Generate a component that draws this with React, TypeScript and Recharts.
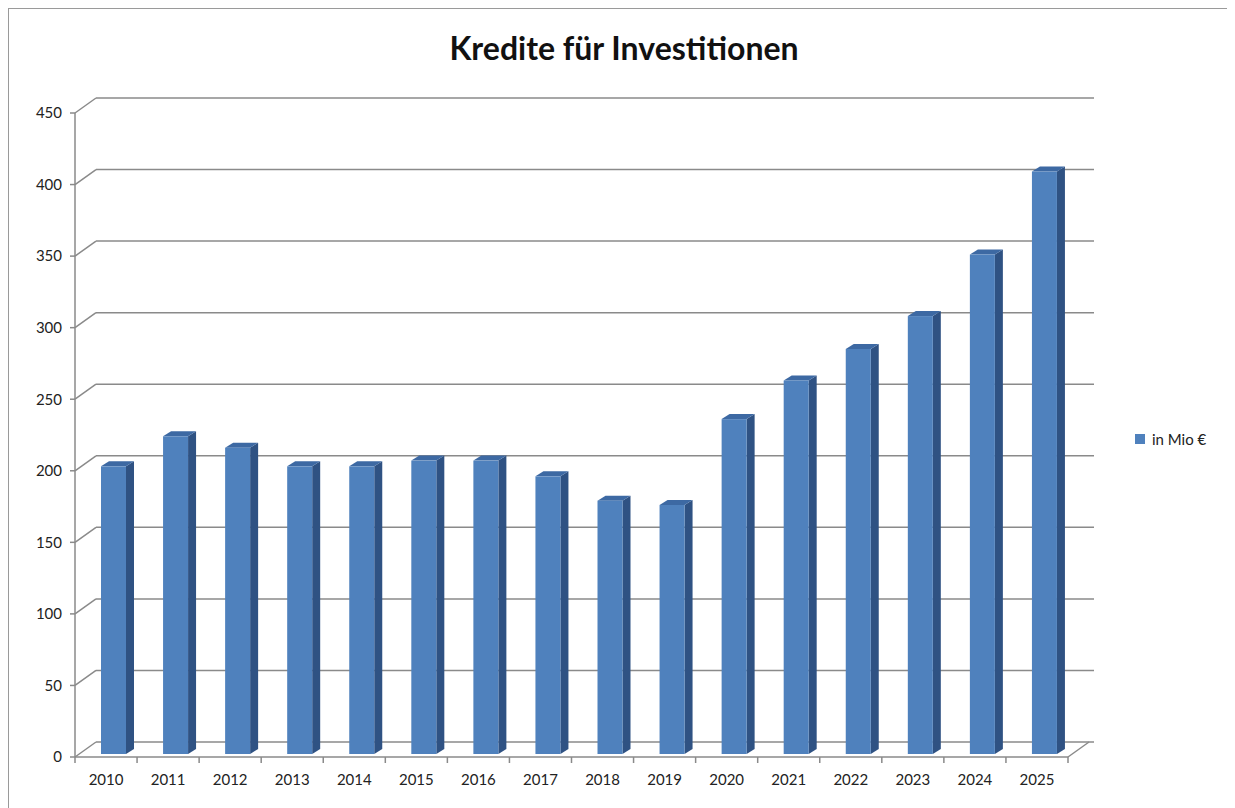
import React from "react";
import { BarChart, Bar, XAxis, YAxis, CartesianGrid } from "recharts";

const years = ["2010", "2011", "2012", "2013", "2014", "2015", "2016", "2017", "2018", "2019", "2020", "2021", "2022", "2023", "2024", "2025"];
const credits = [201, 222, 214, 201, 201, 205, 205, 194, 177, 174, 234, 261, 283, 306, 349, 407];
const yTicks = [0, 50, 100, 150, 200, 250, 300, 350, 400, 450];
const seriesName = "in Mio €";

const data = years.map((year, i) => ({ year, value: credits[i] }));

// 3d-ish depth of the back wall and of the columns
const WALL_DX = 21;
const WALL_DY = -15;
const COL_DX = 8;
const COL_DY = -5;
const GRID = "#8a8a8a";
const FRONT = "#4f81bd";
const SIDE = "#2f5283";
const TOP = "#3d69a3";
const FONT = "Lato, 'Open Sans', sans-serif";

function Column3D(props: any) {
  const { x, y, width, height } = props;
  if (height == null || height <= 0) return null;
  const fx = x + 7;
  const fy = y - 3;
  const w = width;
  const h = height;
  return (
    <g>
      <polygon
        points={`${fx + w},${fy} ${fx + w + COL_DX},${fy + COL_DY} ${fx + w + COL_DX},${fy + h + COL_DY} ${fx + w},${fy + h}`}
        fill={SIDE}
      />
      <polygon
        points={`${fx},${fy} ${fx + COL_DX},${fy + COL_DY} ${fx + w + COL_DX},${fy + COL_DY} ${fx + w},${fy}`}
        fill={TOP}
      />
      <rect x={fx} y={fy} width={w} height={h} fill={FRONT} />
    </g>
  );
}

function WallLine(props: any) {
  const { x1, y1, x2 } = props;
  return (
    <g>
      <line x1={x1} y1={y1} x2={x1 + WALL_DX} y2={y1 + WALL_DY} stroke={GRID} strokeWidth={1.5} />
      <line x1={x1 + WALL_DX} y1={y1 + WALL_DY} x2={x2 + WALL_DX + 5} y2={y1 + WALL_DY} stroke={GRID} strokeWidth={1.5} />
    </g>
  );
}

function YearTick(props: any) {
  const { x, y, payload, index } = props;
  const half = payload && payload.offset != null ? payload.offset : 31;
  const last = index === years.length - 1;
  return (
    <g>
      <line x1={x - half} y1={y} x2={x - half} y2={y + 6} stroke={GRID} strokeWidth={1.5} />
      {last && (
        <>
          <line x1={x + half} y1={y} x2={x + half} y2={y + 6} stroke={GRID} strokeWidth={1.5} />
          <line x1={x + half} y1={y} x2={x + half + WALL_DX} y2={y + WALL_DY} stroke={GRID} strokeWidth={1.5} />
        </>
      )}
      <text x={x} y={y + 24} textAnchor="middle" dominantBaseline="middle" fontSize={15} fill="#222" fontFamily={FONT}>
        {payload.value}
      </text>
    </g>
  );
}

export default function App() {
  return (
    <div
      style={{
        position: "relative",
        width: 1226,
        height: 800,
        border: "1px solid #9a9a9a",
        background: "#fff",
        fontFamily: FONT,
      }}
    >
      <div
        style={{
          position: "absolute",
          top: 19,
          left: 0,
          width: 1230,
          textAlign: "center",
          fontSize: 32,
          fontWeight: 700,
          color: "#111",
        }}
      >
        Kredite für Investitionen
      </div>
      <div
        style={{
          position: "absolute",
          left: 1126,
          top: 421,
          display: "flex",
          alignItems: "center",
          fontSize: 15,
          color: "#222",
        }}
      >
        <span style={{ display: "inline-block", width: 10, height: 10, background: FRONT, marginRight: 7 }} />
        <span>{seriesName}</span>
      </div>
      <BarChart
        width={1224}
        height={798}
        data={data}
        margin={{ top: 104, right: 165, bottom: 20, left: 6 }}
        barCategoryGap={0}
      >
        <CartesianGrid vertical={false} horizontal={(p: any) => <WallLine key={p.key} {...p} />} />
        <YAxis
          domain={[0, 450]}
          ticks={yTicks}
          width={60}
          interval={0}
          tickSize={5}
          tickMargin={8}
          axisLine={{ stroke: GRID, strokeWidth: 1.5 }}
          tickLine={{ stroke: GRID, strokeWidth: 1.5 }}
          tick={{ fontSize: 15, fill: "#222", fontFamily: FONT }}
        />
        <XAxis
          dataKey="year"
          interval={0}
          height={30}
          tickSize={0}
          tickMargin={0}
          axisLine={{ stroke: GRID, strokeWidth: 1.5 }}
          tickLine={false}
          tick={<YearTick />}
        />
        <Bar dataKey="value" name={seriesName} barSize={25} shape={<Column3D />} isAnimationActive={false} />
      </BarChart>
    </div>
  );
}
